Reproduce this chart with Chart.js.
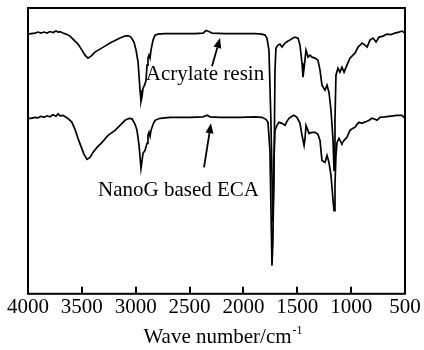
<!DOCTYPE html>
<html>
<head>
<meta charset="utf-8">
<script src="https://cdn.jsdelivr.net/npm/chart.js@4.4.1/dist/chart.umd.min.js"></script>
<style>
  html, body { margin: 0; padding: 0; background: #fff; }
  #wrap { width: 424px; height: 350px; }
</style>
</head>
<body>
<div id="wrap"><canvas id="c" width="424" height="350"></canvas></div>
<script>
// Wavenumbers (cm-1) and relative transmittance (a.u.)
const acrylateWn = [4000,3972,3935,3907,3879,3851,3824,3796,3768,3740,3721,3703,3675,3647,3610,3573,3536,3499,3471,3443,3415,3378,3332,3285,3239,3192,3146,3099,3072,3044,3016,2997,2978,2960,2951,2941,2932,2914,2904,2895,2886,2877,2867,2858,2839,2821,2793,2728,2589,2450,2375,2347,2320,2292,2171,2032,1893,1828,1800,1782,1763,1745,1726,1717,1707,1698,1679,1661,1642,1614,1586,1568,1540,1521,1493,1475,1456,1447,1437,1419,1400,1382,1363,1335,1308,1289,1271,1243,1224,1206,1187,1168,1159,1150,1141,1122,1104,1085,1066,1039,1011,983,964,936,917,899,871,852,825,797,769,741,704,667,630,593,556,528,500];
const acrylateT = [259,259.5,260,261,260,261,260,261.5,260.5,262,261,261.5,260,259,257,253,249,243,238,235,237,241,244,247,250,252.5,255,257,257.5,256,251,243,231,203,192,197,205,209,213,228,235,238,235,243,253,258,259,259.5,259.5,259.5,260,262.5,261.5,260,259.5,259.5,259.5,259,258,255,243,173,71,113,223,245,248,249,246,250,252,253,255,256,255,248,230,216,225,243,236,238,236,235,233,223,208,203,208,201,183,153,123,173,218,225,221,226,221,228,235,238,240,246,248,250,248,246,253,255,251,256,257,259,258.5,260,261,262,260];

const ecaWn = [4000,3972,3935,3907,3879,3851,3824,3796,3768,3740,3721,3703,3675,3647,3619,3592,3564,3536,3508,3480,3452,3424,3397,3359,3313,3257,3192,3146,3099,3062,3034,3006,2988,2969,2951,2941,2932,2914,2895,2886,2877,2867,2858,2839,2821,2774,2682,2496,2375,2338,2310,2218,2032,1893,1828,1791,1772,1754,1735,1726,1717,1707,1689,1670,1642,1614,1596,1577,1549,1531,1503,1475,1456,1437,1428,1419,1391,1363,1335,1308,1289,1271,1243,1224,1206,1187,1168,1159,1150,1141,1131,1113,1094,1085,1066,1039,1011,983,964,946,927,899,880,852,834,806,778,760,732,686,649,611,574,528,500];
const ecaT = [175,175,176,175.5,177,176,177.5,176.5,178.5,177,179.5,177.5,178,176,174,171,164,155,147,139,134,136,141,146,151,158,163,168,173,175,174.5,169,163,148,125,133,140,143,150,158,161,157,163,169,173,175,176,176,176.5,178,176.5,176,176,176.5,176,174,171,143,28,53,133,163,168,171,170,168,172,175,177,178,176,170,158,148,155,168,160,161,161,159,153,133,131,138,131,118,93,83,108,138,151,155,151,150,153,156,163,165,166,169,171,170,171,172,173,175,174,173,176,176.5,177,177.5,178,178,175];

const xTicks = [4000,3500,3000,2500,2000,1500,1000,500];
const seriesNames = ['Acrylate resin', 'NanoG based ECA'];
const xTitle = 'Wave number/cm';
const xTitleSup = '-1';

function pts(xs, ys) { return xs.map((x, i) => ({ x: x, y: ys[i] })); }

const FONT = '"Liberation Serif", "Times New Roman", serif';

const framePlugin = {
  id: 'frame',
  afterDraw(chart) {
    const { ctx, chartArea: a, scales } = chart;
    const xs = scales.x, ys = scales.y;
    ctx.save();
    ctx.strokeStyle = '#000';
    ctx.lineWidth = 2;
    ctx.strokeRect(a.left, a.top, a.right - a.left, a.bottom - a.top);
    // inward tick marks on the bottom axis
    ctx.lineWidth = 2;
    xTicks.forEach(v => {
      const px = Math.round(xs.getPixelForValue(v));
      ctx.beginPath();
      ctx.moveTo(px, a.bottom);
      ctx.lineTo(px, a.bottom - 7);
      ctx.stroke();
    });
    // axis title with superscript
    ctx.fillStyle = '#000';
    ctx.textBaseline = 'alphabetic';
    ctx.font = '21px ' + FONT;
    const w1 = ctx.measureText(xTitle).width;
    ctx.font = '12px ' + FONT;
    const w2 = ctx.measureText(xTitleSup).width;
    const cx = (a.left + a.right) / 2 + 6;
    const start = cx - (w1 + w2) / 2;
    ctx.font = '21px ' + FONT;
    ctx.textAlign = 'left';
    ctx.fillText(xTitle, start, a.bottom + 49);
    ctx.font = '12px ' + FONT;
    ctx.fillText(xTitleSup, start + w1 + 1, a.bottom + 40);

    // annotations
    const P = (wn, t) => [xs.getPixelForValue(wn), ys.getPixelForValue(t)];
    ctx.font = '21px ' + FONT;
    ctx.textAlign = 'center';
    let p = P(2357, 213);
    ctx.fillText(seriesNames[0], p[0], p[1]);
    p = P(2603, 98);
    ctx.fillText(seriesNames[1], p[0], p[1]);

    function arrow(tail, tip) {
      const [x0, y0] = P(tail[0], tail[1]);
      const [x1, y1] = P(tip[0], tip[1]);
      const ang = Math.atan2(y1 - y0, x1 - x0);
      const L = 10, W = 4;
      const bx = x1 - L * Math.cos(ang), by = y1 - L * Math.sin(ang);
      ctx.lineWidth = 1.8;
      ctx.beginPath();
      ctx.moveTo(x0, y0);
      ctx.lineTo(bx, by);
      ctx.stroke();
      ctx.beginPath();
      ctx.moveTo(x1, y1);
      ctx.lineTo(bx + W * Math.sin(ang), by - W * Math.cos(ang));
      ctx.lineTo(bx - W * Math.sin(ang), by + W * Math.cos(ang));
      ctx.closePath();
      ctx.fill();
    }
    arrow([2292, 227], [2217, 255]);
    arrow([2366, 126], [2301, 170]);
    ctx.restore();
  }
};

new Chart(document.getElementById('c'), {
  type: 'line',
  data: {
    datasets: [
      { label: seriesNames[0], data: pts(acrylateWn, acrylateT), borderColor: '#000', borderWidth: 1.7, pointRadius: 0, tension: 0, fill: false },
      { label: seriesNames[1], data: pts(ecaWn, ecaT), borderColor: '#000', borderWidth: 1.7, pointRadius: 0, tension: 0, fill: false }
    ]
  },
  options: {
    responsive: false,
    animation: false,
    events: [],
    layout: { padding: { left: 28, right: 19, top: 8, bottom: 29 } },
    plugins: { legend: { display: false }, tooltip: { enabled: false } },
    scales: {
      x: {
        type: 'linear',
        reverse: true,
        min: 500,
        max: 4000,
        afterBuildTicks: (s) => { s.ticks = xTicks.map(v => ({ value: v })); },
        afterFit: (s) => { s.paddingLeft = 0; s.paddingRight = 0; },
        grid: { display: false, drawTicks: false },
        border: { display: false },
        ticks: {
          color: '#000',
          padding: 1,
          maxRotation: 0,
          autoSkip: false,
          font: { family: FONT, size: 21, lineHeight: 1.2 },
          callback: (v) => String(v)
        }
      },
      y: { display: false, min: 0, max: 285 }
    }
  },
  plugins: [framePlugin]
});
</script>
</body>
</html>
